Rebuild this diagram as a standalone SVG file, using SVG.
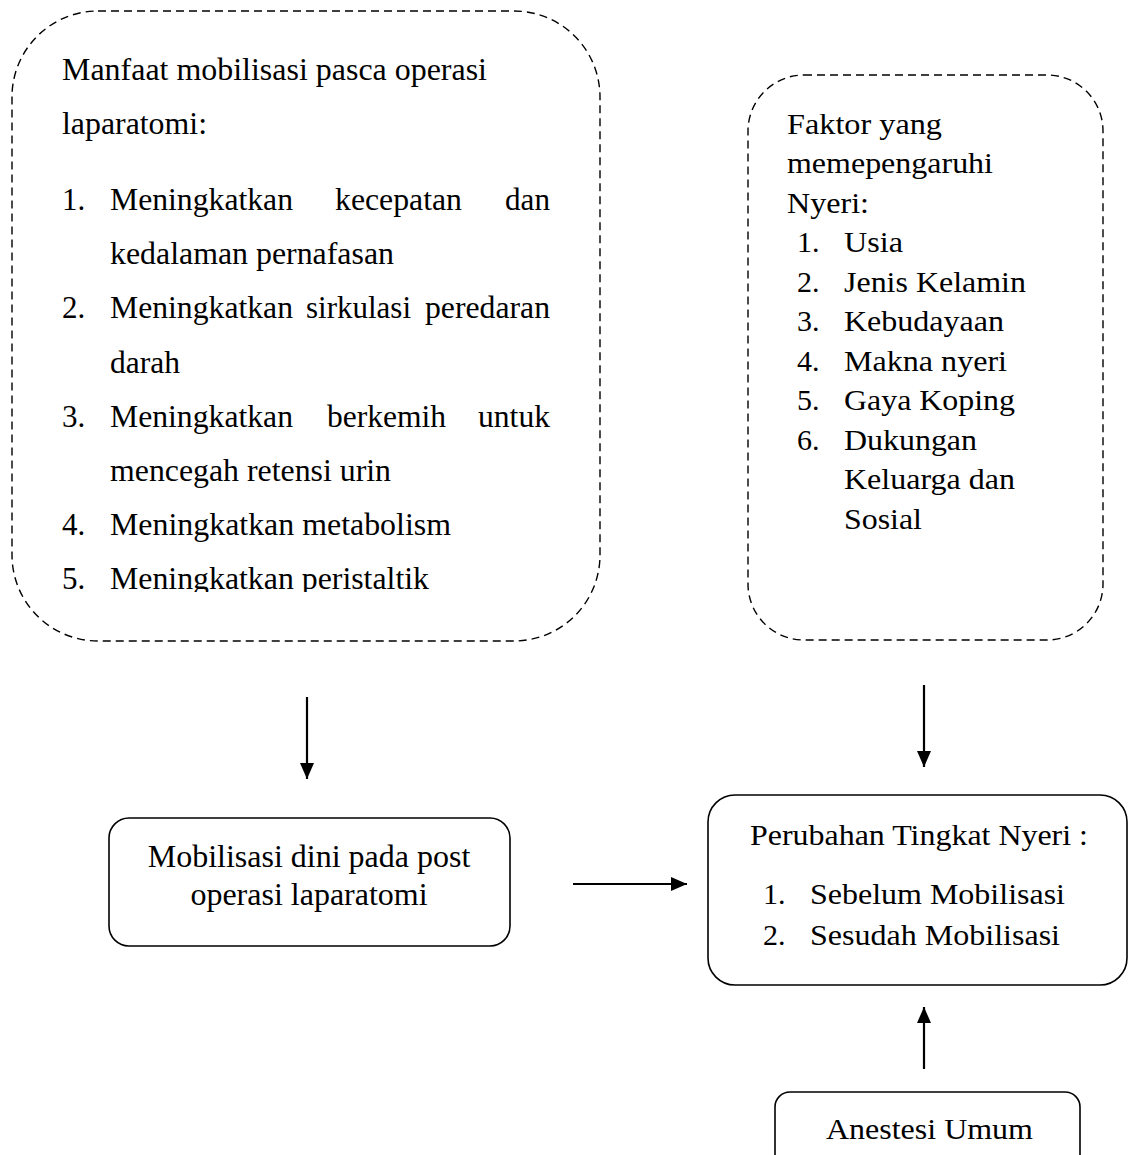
<svg xmlns="http://www.w3.org/2000/svg" width="1128" height="1155" viewBox="0 0 1128 1155">
<style>
.t{font-family:"Liberation Serif","Times New Roman",serif;fill:#000}
.s31{font-size:31px}
.s30{font-size:30px}
.s32{font-size:32px}
.dash{fill:none;stroke:#000;stroke-width:1.4;stroke-dasharray:8 5}
.box{fill:none;stroke:#000;stroke-width:1.6}
.conn{stroke:#000;stroke-width:2.2;fill:none;marker-end:url(#ah)}
</style>
<defs>
<marker id="ah" viewBox="0 0 16 14" refX="16" refY="7" markerWidth="17" markerHeight="14" markerUnits="userSpaceOnUse" orient="auto">
<path d="M0,0 L16,7 L0,14 z" fill="#000"/>
</marker>
<clipPath id="cut"><rect x="0" y="0" width="1128" height="592"/></clipPath>
</defs>
<rect width="1128" height="1155" fill="#fff"/>

<g id="manfaat">
<rect class="dash" x="12" y="11" width="588" height="630" rx="86" ry="86"/>
<g class="t s31">
<text x="62" y="80" textLength="425" lengthAdjust="spacingAndGlyphs">Manfaat mobilisasi pasca operasi</text>
<text x="62" y="134" textLength="145" lengthAdjust="spacingAndGlyphs">laparatomi:</text>
<text x="62" y="210">1.</text>
<text x="110" y="210" textLength="183" lengthAdjust="spacingAndGlyphs">Meningkatkan</text>
<text x="335" y="210" textLength="127" lengthAdjust="spacingAndGlyphs">kecepatan</text>
<text x="505" y="210" textLength="45" lengthAdjust="spacingAndGlyphs">dan</text>
<text x="110" y="264" textLength="284" lengthAdjust="spacingAndGlyphs">kedalaman pernafasan</text>
<text x="62" y="318">2.</text>
<text x="110" y="318" textLength="183" lengthAdjust="spacingAndGlyphs">Meningkatkan</text>
<text x="306" y="318" textLength="105" lengthAdjust="spacingAndGlyphs">sirkulasi</text>
<text x="425" y="318" textLength="125" lengthAdjust="spacingAndGlyphs">peredaran</text>
<text x="110" y="373" textLength="70" lengthAdjust="spacingAndGlyphs">darah</text>
<text x="62" y="427">3.</text>
<text x="110" y="427" textLength="183" lengthAdjust="spacingAndGlyphs">Meningkatkan</text>
<text x="327" y="427" textLength="119" lengthAdjust="spacingAndGlyphs">berkemih</text>
<text x="478" y="427" textLength="72" lengthAdjust="spacingAndGlyphs">untuk</text>
<text x="110" y="481" textLength="281" lengthAdjust="spacingAndGlyphs">mencegah retensi urin</text>
<text x="62" y="535">4.</text>
<text x="110" y="535" textLength="341" lengthAdjust="spacingAndGlyphs">Meningkatkan metabolism</text>
<g clip-path="url(#cut)">
<text x="62" y="589">5.</text>
<text x="110" y="589" textLength="319" lengthAdjust="spacingAndGlyphs">Meningkatkan peristaltik</text>
</g>
</g>
</g>

<g id="faktor">
<rect class="dash" x="748" y="75" width="355" height="565" rx="56" ry="56"/>
<g class="t s30">
<text x="787" y="134" textLength="155" lengthAdjust="spacingAndGlyphs">Faktor yang</text>
<text x="787" y="173" textLength="206" lengthAdjust="spacingAndGlyphs">memepengaruhi</text>
<text x="787" y="213" textLength="82" lengthAdjust="spacingAndGlyphs">Nyeri:</text>
<text x="797" y="252">1.</text>
<text x="844" y="252" textLength="59" lengthAdjust="spacingAndGlyphs">Usia</text>
<text x="797" y="292">2.</text>
<text x="844" y="292" textLength="182" lengthAdjust="spacingAndGlyphs">Jenis Kelamin</text>
<text x="797" y="331">3.</text>
<text x="844" y="331" textLength="160" lengthAdjust="spacingAndGlyphs">Kebudayaan</text>
<text x="797" y="371">4.</text>
<text x="844" y="371" textLength="163" lengthAdjust="spacingAndGlyphs">Makna nyeri</text>
<text x="797" y="410">5.</text>
<text x="844" y="410" textLength="171" lengthAdjust="spacingAndGlyphs">Gaya Koping</text>
<text x="797" y="450">6.</text>
<text x="844" y="450" textLength="133" lengthAdjust="spacingAndGlyphs">Dukungan</text>
<text x="844" y="489" textLength="171" lengthAdjust="spacingAndGlyphs">Keluarga dan</text>
<text x="844" y="529" textLength="78" lengthAdjust="spacingAndGlyphs">Sosial</text>
</g>
</g>

<g id="mobilisasi">
<rect class="box" x="109" y="818" width="401" height="128" rx="20" ry="20"/>
<g class="t s32" text-anchor="middle">
<text x="309" y="867">Mobilisasi dini pada post</text>
<text x="309" y="905">operasi laparatomi</text>
</g>
</g>

<g id="perubahan">
<rect class="box" x="708" y="795" width="419" height="190" rx="27" ry="27"/>
<g class="t s30">
<text x="750" y="845" textLength="338" lengthAdjust="spacingAndGlyphs">Perubahan Tingkat Nyeri :</text>
<text x="763" y="904">1.</text>
<text x="810" y="904" textLength="255" lengthAdjust="spacingAndGlyphs">Sebelum Mobilisasi</text>
<text x="763" y="945">2.</text>
<text x="810" y="945" textLength="250" lengthAdjust="spacingAndGlyphs">Sesudah Mobilisasi</text>
</g>
</g>

<g id="anestesi">
<rect class="box" x="775" y="1092" width="305" height="90" rx="15" ry="15"/>
<text class="t s30" x="826" y="1139" textLength="207" lengthAdjust="spacingAndGlyphs">Anestesi Umum</text>
</g>

<g id="connectors">
<line class="conn" x1="307" y1="697" x2="307" y2="779"/>
<line class="conn" x1="924" y1="685" x2="924" y2="767"/>
<line class="conn" x1="573" y1="884" x2="687" y2="884"/>
<line class="conn" x1="924" y1="1069" x2="924" y2="1007"/>
</g>
</svg>
